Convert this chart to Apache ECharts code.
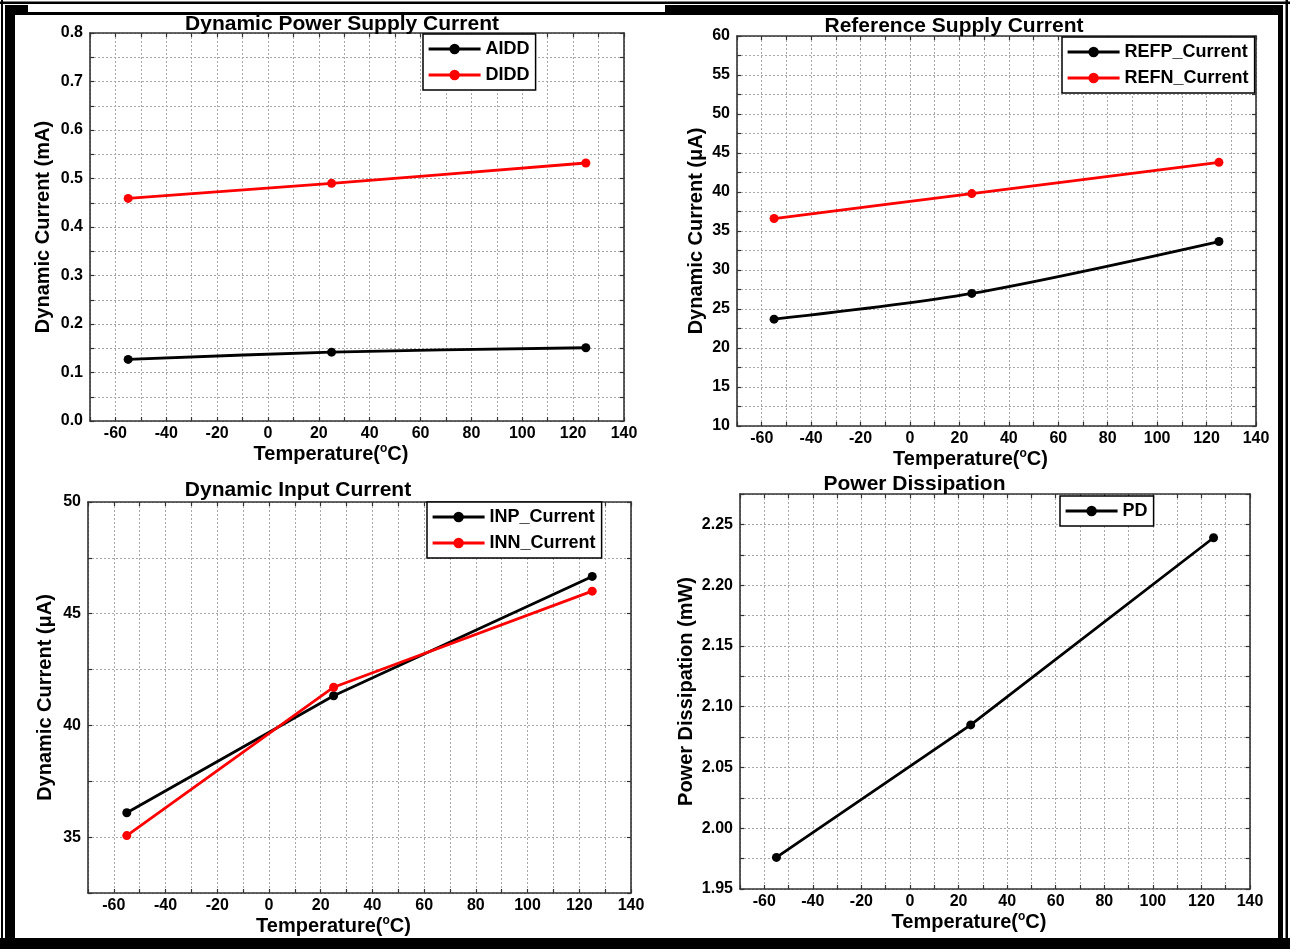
<!DOCTYPE html>
<html>
<head>
<meta charset="utf-8">
<script src="https://cdn.jsdelivr.net/npm/echarts@6/dist/echarts.min.js"></script>
<style>
html,body{margin:0;padding:0;background:#fff;}
#chart{width:1290px;height:949px;}
</style>
</head>
<body>
<div id="chart"></div>
<script>
// ---- data ----
const temps = [-55, 25, 125];
const aidd = [0.127, 0.142, 0.151];
const didd = [0.459, 0.490, 0.532];
const refp = [23.7, 27.0, 33.65];
const refn = [36.6, 39.8, 43.8];
const inp = [36.09, 41.33, 46.67];
const inn = [35.07, 41.71, 46.01];
const pd = [1.976, 2.085, 2.239];

const titles = ['Dynamic Power Supply Current', 'Reference Supply Current', 'Dynamic Input Current', 'Power Dissipation'];
const yNames = ['Dynamic Current (mA)', 'Dynamic Current (\u03bcA)', 'Dynamic Current (\u03bcA)', 'Power Dissipation (mW)'];
const xName = 'Temperature({sup|o}C)';
const xTickStep = 20;
const yTicks = [
  {min: 0, max: 0.8, grid: 0.05, label: 0.1, dec: 1},
  {min: 10, max: 60, grid: 2.5, label: 5, dec: 0},
  {min: 32.5, max: 50, grid: 2.5, label: 5, dec: 0},
  {min: 1.95, max: 2.275, grid: 0.025, label: 0.05, dec: 2}
];

const FONT = '"Liberation Sans", Arial, Helvetica, sans-serif';
const BLACK = '#000000', RED = '#ff0000';

function isMult(v, step) {
  const r = v / step;
  return Math.abs(r - Math.round(r)) < 1e-6;
}
function pairs(xs, ys) { return xs.map((x, i) => [x, ys[i]]); }

const grids = [
  {left: 90, top: 33, width: 534, height: 388},
  {left: 737, top: 36, width: 519, height: 390},
  {left: 88, top: 502, width: 543, height: 391},
  {left: 740, top: 494, width: 510, height: 395}
];
const titlePos = [[337, 8.5], [949, 10.5], [293, 475], [909.5, 469]];
const yNameGap = [37, 31, 33, 44];
const legendPos = [[423, 34], [1062, 37], [427, 502], [1060, 496]];

const gridLine = {show: true, lineStyle: {color: '#a8a8a8', type: [2, 2], width: 1}};
const axLine = {show: true, onZero: false, lineStyle: {color: '#333', width: 1.6}};
const tick = {show: true, inside: true, length: 4, lineStyle: {color: '#333', width: 1.2}};

const xAxes = [], yAxes = [];
grids.forEach((g, i) => {
  xAxes.push({
    type: 'value', gridIndex: i, min: -70, max: 140, interval: 10, position: 'bottom',
    axisLine: axLine, axisTick: tick, splitLine: gridLine,
    axisLabel: {formatter: v => isMult(v, xTickStep) ? String(v) : '', color: '#000', fontSize: 16, fontWeight: 'bold', fontFamily: FONT, margin: 5},
    name: xName, nameLocation: 'middle', nameGap: 21,
    nameTextStyle: {color: '#000', fontSize: 20, fontWeight: 'bold', fontFamily: FONT, padding: [0, 52, 0, 0],
      rich: {sup: {fontSize: 12, fontWeight: 'bold', fontFamily: FONT, color: '#000', verticalAlign: 'top', padding: [0, 0, 12, 0]}}}
  });
  xAxes.push({
    type: 'value', gridIndex: i, min: -70, max: 140, interval: 10, position: 'top',
    axisLine: axLine, axisTick: tick, axisLabel: {show: false}, splitLine: {show: false}
  });
  const yt = yTicks[i];
  yAxes.push({
    type: 'value', gridIndex: i, min: yt.min, max: yt.max, interval: yt.grid, position: 'left',
    axisLine: axLine, axisTick: tick, splitLine: gridLine,
    axisLabel: {formatter: v => isMult(v, yt.label) ? v.toFixed(yt.dec) : '', color: '#000', fontSize: 16, fontWeight: 'bold', fontFamily: FONT, margin: 7},
    name: yNames[i], nameLocation: 'middle', nameGap: yNameGap[i], nameRotate: 90,
    nameTextStyle: {color: '#000', fontSize: 20, fontWeight: 'bold', fontFamily: FONT}
  });
  yAxes.push({
    type: 'value', gridIndex: i, min: yt.min, max: yt.max, interval: yt.grid, position: 'right',
    axisLine: axLine, axisTick: tick, axisLabel: {show: false}, splitLine: {show: false}
  });
});

function line(name, data, gi, color, smooth) {
  return {
    name, type: 'line', xAxisIndex: gi * 2, yAxisIndex: gi * 2, data,
    smooth: smooth || false,
    symbol: 'circle', symbolSize: 9,
    lineStyle: {color, width: 2.8},
    itemStyle: {color},
    z: 5
  };
}

const series = [
  line('AIDD', pairs(temps, aidd), 0, BLACK, 0.3),
  line('DIDD', pairs(temps, didd), 0, RED, 0.3),
  line('REFP_Current', pairs(temps, refp), 1, BLACK, 0.3),
  line('REFN_Current', pairs(temps, refn), 1, RED, 0.3),
  line('INP_Current', pairs(temps, inp), 2, BLACK),
  line('INN_Current', pairs(temps, inn), 2, RED),
  line('PD', pairs(temps, pd), 3, BLACK)
];
const legendData = [['AIDD', 'DIDD'], ['REFP_Current', 'REFN_Current'], ['INP_Current', 'INN_Current'], ['PD']];

const legends = legendData.map((d, i) => ({
  data: d, orient: 'vertical', left: legendPos[i][0], top: legendPos[i][1],
  itemWidth: 52, itemHeight: 13, itemGap: 6, padding: [5, 6, 5, 4],
  borderColor: '#000', borderWidth: 1.5, backgroundColor: '#fff', selectedMode: false,
  lineStyle: {width: 3.2},
  textStyle: {color: '#000', fontSize: 18, fontWeight: 'bold', fontFamily: FONT, lineHeight: 20},
  z: 10
}));

const titleOpts = titles.map((t, i) => ({
  text: t, left: titlePos[i][0], top: titlePos[i][1], textAlign: 'center',
  textStyle: {color: '#000', fontSize: 21, fontWeight: 'bold', fontFamily: FONT}
}));

const frame = [
  {type: 'rect', shape: {x: 0, y: 1.5, width: 1290, height: 2.5}, style: {fill: '#000'}},
  {type: 'rect', shape: {x: 1, y: 0, width: 2, height: 949}, style: {fill: '#000'}},
  {type: 'rect', shape: {x: 1285.5, y: 0, width: 2.5, height: 949}, style: {fill: '#000'}},
  {type: 'rect', shape: {x: 5, y: 5, width: 23, height: 10}, style: {fill: '#000'}},
  {type: 'rect', shape: {x: 5, y: 12, width: 660, height: 3}, style: {fill: '#000'}},
  {type: 'rect', shape: {x: 665, y: 5, width: 618, height: 10}, style: {fill: '#000'}},
  {type: 'rect', shape: {x: 5, y: 5, width: 10, height: 944}, style: {fill: '#000'}},
  {type: 'rect', shape: {x: 1278, y: 5, width: 5, height: 944}, style: {fill: '#000'}},
  {type: 'rect', shape: {x: 0, y: 938, width: 1290, height: 11}, style: {fill: '#000'}}
];

const chart = echarts.init(document.getElementById('chart'), null, {renderer: 'canvas'});
chart.setOption({
  animation: false,
  backgroundColor: '#fff',
  title: titleOpts,
  legend: legends,
  grid: grids.map(g => Object.assign({containLabel: false, show: false}, g)),
  xAxis: xAxes,
  yAxis: yAxes,
  series,
  graphic: {elements: frame}
});
</script>
</body>
</html>
